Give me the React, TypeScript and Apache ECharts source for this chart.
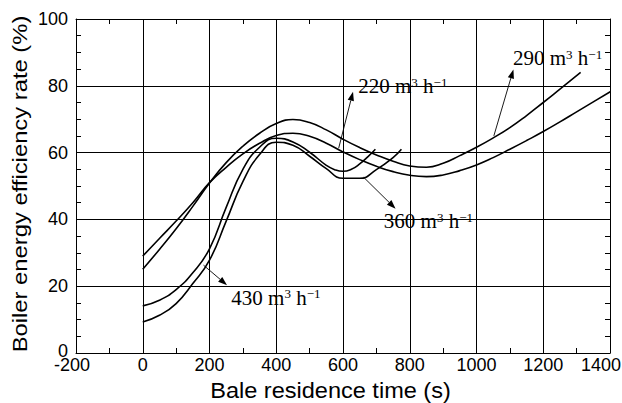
import React, { useEffect, useRef } from "react";
import * as echarts from "echarts";

// Axis ranges / ticks
const xMin = -200;
const xMax = 1400;
const xStep = 200;
const yMin = 0;
const yMax = 100;
const yStep = 20;

// Curve 290 m3/h
const c290X = [0, 50, 100, 150, 200, 250, 300, 350, 400, 450, 500, 550, 600, 650, 700, 750, 800, 850, 900, 950, 1000, 1050, 1100, 1150, 1200, 1250, 1312];
const c290Y = [25.1, 31.0, 37.2, 43.9, 50.9, 57.0, 61.9, 65.8, 68.7, 69.9, 69.0, 66.8, 64.0, 61.5, 59.3, 57.4, 56.0, 55.6, 56.8, 59.1, 61.6, 64.4, 67.5, 71.1, 75.0, 79.0, 84.0];

// Curve 220 m3/h
const c220X = [0, 50, 100, 150, 200, 250, 300, 350, 400, 450, 500, 550, 600, 650, 700, 750, 800, 850, 900, 950, 1000, 1050, 1100, 1150, 1200, 1250, 1300, 1350, 1402];
const c220Y = [29.0, 34.3, 39.5, 45.0, 51.0, 55.6, 59.6, 62.8, 65.1, 65.8, 64.9, 62.8, 60.2, 57.9, 55.9, 54.3, 53.2, 52.8, 53.3, 54.6, 56.3, 58.5, 61.0, 63.6, 66.3, 69.2, 72.2, 75.2, 78.3];

// Curve 430 m3/h
const c430X = [0, 50, 100, 150, 200, 250, 300, 350, 400, 450, 500, 550, 575, 600, 625, 650, 675, 697];
const c430Y = [14.1, 15.8, 19.0, 24.0, 31.2, 43.6, 55.0, 61.6, 64.3, 63.2, 60.1, 56.2, 54.9, 54.4, 55.0, 56.6, 58.8, 61.0];

// Curve 360 m3/h
const c360X = [0, 50, 100, 150, 200, 250, 300, 350, 400, 450, 500, 550, 600, 650, 700, 750, 775];
const c360Y = [9.3, 11.3, 14.8, 20.8, 27.8, 39.5, 51.3, 59.4, 63.1, 62.2, 58.9, 55.2, 52.3, 52.3, 54.9, 58.5, 61.0];

// Annotations (data coordinates)
const labelRates = ["430", "220", "290", "360"];
const arrowTails = [[182, 26.3], [587, 61.3], [1052, 65.0], [662, 52.6]];
const arrowHeads = [[252.6, 20.3], [630, 78.2], [1110.6, 84.9], [757.5, 43.2]];
const labelAnchors = [[265.5, 16.5], [645.6, 79.9], [1109.4, 88.3], [722.4, 39.5]];

const xTitle = "Bale residence time (s)";
const yTitle = "Boiler energy efficiency rate (%)";

const SANS = '"Liberation Sans", Arial, sans-serif';
const SERIF = '"Liberation Serif", "Times New Roman", serif';

const zip = (xs: number[], ys: number[]) => xs.map((x, i) => [x, ys[i]]);

export default function App() {
  const ref = useRef<HTMLDivElement>(null);
  useEffect(() => {
    const chart = echarts.init(ref.current!, null, { renderer: "svg" });
    const black = "#000";
    const baseX = {
      type: "value",
      min: xMin,
      max: xMax,
      interval: xStep,
      axisLine: { show: true, onZero: false, lineStyle: { color: black, width: 1 } },
      axisTick: { show: true, inside: true, length: 5, lineStyle: { color: black } },
      minorTick: { show: true, splitNumber: 2, length: 5, lineStyle: { color: black } },
    };
    const baseY = {
      type: "value",
      min: yMin,
      max: yMax,
      interval: yStep,
      axisLine: { show: true, onZero: false, lineStyle: { color: black, width: 1 } },
      axisTick: { show: true, inside: true, length: 5, lineStyle: { color: black } },
      minorTick: { show: true, splitNumber: 4, length: 5, lineStyle: { color: black } },
    };
    const mkSeries = (xs: number[], ys: number[]) => ({
      type: "line",
      data: zip(xs, ys),
      smooth: 0.5,
      symbol: "none",
      xAxisIndex: 0,
      yAxisIndex: 0,
      lineStyle: { color: black, width: 1.6 },
      z: 5,
    });
    const option: any = {
      animation: false,
      backgroundColor: "#fff",
      grid: { left: 76, right: 12, top: 19, bottom: 50, containLabel: false, outerBoundsMode: "none" },
      xAxis: [
        {
          ...baseX,
          position: "bottom",
          splitLine: { show: true, lineStyle: { color: black, width: 1 } },
          axisLabel: {
            show: true,
            color: black,
            fontSize: 18,
            lineHeight: 10,
            fontFamily: SANS,
            margin: 7,
            formatter: (v: number) =>
              v === xMax ? `{mx|${v}}` : v === xMin ? `{mn|${v}}` : `${v}`,
            rich: {
              mx: { fontSize: 18, lineHeight: 10, fontFamily: SANS, color: black, padding: [0, 18, 0, 0] },
              mn: { fontSize: 18, lineHeight: 10, fontFamily: SANS, color: black, padding: [0, 8, 0, 0] },
            },
          },
        },
        {
          ...baseX,
          position: "top",
          splitLine: { show: false },
          axisLabel: { show: false },
        },
      ],
      yAxis: [
        {
          ...baseY,
          position: "left",
          splitLine: { show: true, lineStyle: { color: black, width: 1 } },
          axisLabel: {
            show: true,
            color: black,
            fontSize: 18,
            lineHeight: 10,
            fontFamily: SANS,
            margin: 8,
            formatter: (v: number) => (v === yMin ? `{mn|${v}}` : `${v}`),
            rich: {
              mn: { fontSize: 18, lineHeight: 8, fontFamily: SANS, color: black, padding: [0, 0, 5, 0] },
            },
          },
        },
        {
          ...baseY,
          position: "right",
          splitLine: { show: false },
          axisLabel: { show: false },
        },
      ],
      series: [
        mkSeries(c290X, c290Y),
        mkSeries(c220X, c220Y),
        mkSeries(c430X, c430Y),
        mkSeries(c360X, c360Y),
      ],
    };
    chart.setOption(option);

    const toPx = (p: number[]) => chart.convertToPixel({ gridIndex: 0 }, p) as number[];
    const graphics: any[] = [];
    labelRates.forEach((rate, i) => {
      const t = toPx(arrowTails[i]);
      const h = toPx(arrowHeads[i]);
      const dx = h[0] - t[0];
      const dy = h[1] - t[1];
      const len = Math.sqrt(dx * dx + dy * dy);
      const ux = dx / len;
      const uy = dy / len;
      const headLen = 9;
      const headHalf = 3.2;
      const bx = h[0] - ux * headLen;
      const by = h[1] - uy * headLen;
      graphics.push({
        type: "line",
        shape: { x1: t[0], y1: t[1], x2: bx, y2: by },
        style: { stroke: black, lineWidth: 0.9 },
        z: 10,
      });
      graphics.push({
        type: "polygon",
        shape: {
          points: [
            [h[0], h[1]],
            [bx - uy * headHalf, by + ux * headHalf],
            [bx + uy * headHalf, by - ux * headHalf],
          ],
        },
        style: { fill: black },
        z: 10,
      });
      const a = toPx(labelAnchors[i]);
      graphics.push({
        type: "text",
        x: a[0],
        y: a[1],
        z: 10,
        style: {
          text: `{n|${rate} m}{s|3}{n| h}{s|\u22121}`,
          align: "left",
          verticalAlign: "middle",
          fill: black,
          rich: {
            n: { fontSize: 21, fontFamily: SERIF, fill: black },
            s: { fontSize: 13, fontFamily: SERIF, fill: black, verticalAlign: "top" },
          },
        },
      });
    });
    graphics.push({
      type: "text",
      x: 330.5,
      y: 390,
      scaleX: 1.07,
      style: {
        text: xTitle,
        fontSize: 22,
        lineHeight: 20,
        fontFamily: SANS,
        fill: black,
        align: "center",
        verticalAlign: "middle",
      },
    });
    graphics.push({
      type: "text",
      x: 20.5,
      y: 184,
      rotation: Math.PI / 2,
      scaleX: 1.19,
      style: {
        text: yTitle,
        fontSize: 20,
        fontFamily: SANS,
        fill: black,
        align: "center",
        verticalAlign: "middle",
      },
    });
    chart.setOption({ graphic: graphics });
    return () => chart.dispose();
  }, []);
  return (
    <div
      ref={ref}
      style={{ position: "fixed", left: 0, top: 0, width: 622, height: 403, background: "#fff" }}
    />
  );
}
